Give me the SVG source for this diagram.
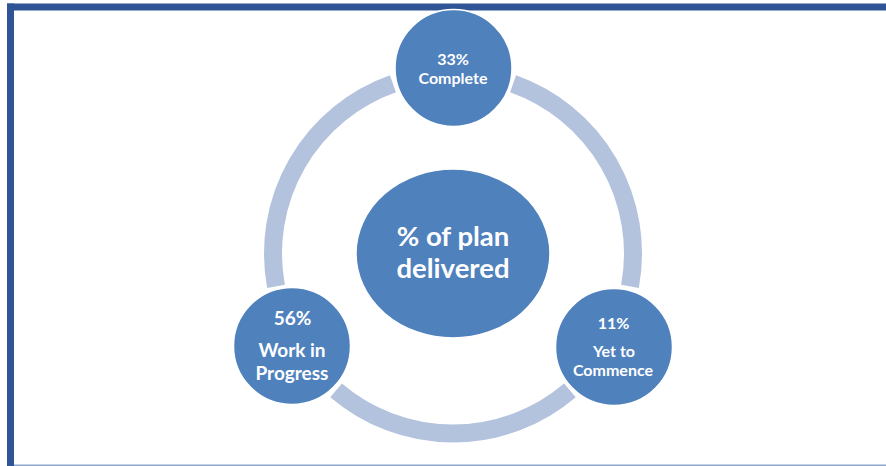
<svg xmlns="http://www.w3.org/2000/svg" width="886" height="466" viewBox="0 0 886 466">
<style>
.node{fill:#4f81bd;stroke:#ffffff;stroke-width:1.5}
.arc{fill:none;stroke:#b3c2dd;stroke-width:18;stroke-linecap:butt}
.t{font-family:Lato,"Open Sans","Liberation Sans",sans-serif;font-weight:bold;fill:#ffffff;text-anchor:middle}
.s{font-size:16px}
.m{font-size:19px}
.l{font-size:27.5px}
</style>
<rect x="0" y="0" width="886" height="466" fill="#ffffff"/>
<g id="frame">
<rect x="7" y="3.5" width="879" height="7" fill="#2f5597"/>
<rect x="7" y="3.5" width="7" height="462.5" fill="#2f5597"/>
<rect x="14" y="464.5" width="872" height="1.5" fill="#8ea5cb"/>
</g>
<g id="connectors">
<path class="arc" d="M 513.08 83.83 A 180 180 0 0 1 629.99 286.30"/>
<path class="arc" d="M 569.89 390.38 A 180 180 0 0 1 336.11 390.38"/>
<path class="arc" d="M 276.01 286.30 A 180 180 0 0 1 392.92 83.83"/>
</g>
<g id="center">
<ellipse class="node" cx="453" cy="253.5" rx="97" ry="84.5"/>
<text class="t l" x="453" y="246">% of plan</text>
<text class="t l" x="453" y="278">delivered</text>
</g>
<g id="complete">
<circle class="node" cx="453.5" cy="68" r="58.5"/>
<text class="t s" x="453" y="65">33%</text>
<text class="t s" x="453" y="84">Complete</text>
</g>
<g id="yet-to-commence">
<circle class="node" cx="614" cy="347" r="58.5"/>
<text class="t s" x="613.5" y="329">11%</text>
<text class="t s" x="614" y="357">Yet to</text>
<text class="t s" x="613" y="376">Commence</text>
</g>
<g id="work-in-progress">
<circle class="node" cx="292" cy="346" r="58.5"/>
<text class="t m" x="292.5" y="325">56%</text>
<text class="t m" x="292" y="357">Work in</text>
<text class="t m" x="292" y="380">Progress</text>
</g>
</svg>
